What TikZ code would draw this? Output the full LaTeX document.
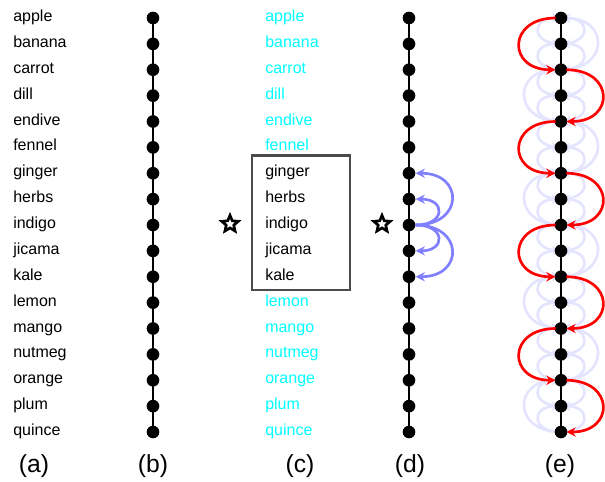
\documentclass[tikz,border=0pt]{standalone}
\usepackage{fontspec}
\setmainfont{Liberation Sans}
\usetikzlibrary{arrows.meta,shapes.geometric}
\definecolor{aqua}{RGB}{0,255,255}
\definecolor{lavender}{RGB}{128,128,255}
\definecolor{haze}{RGB}{228,228,255}

\begin{document}
\begin{tikzpicture}[x=0.75pt,y=-0.75pt,
	dot/.style={circle,fill=black,inner sep=0pt,minimum size=9.5pt},
	spine/.style={line width=2.2pt},
	word/.style={anchor=base west,inner sep=0pt,font=\fontsize{12}{14}\selectfont},
	caption/.style={anchor=base,font=\fontsize{18.5}{21}\selectfont},
	starmark/.style={star,star points=5,star point ratio=2.2,draw,line width=2pt,minimum size=13pt,inner sep=0pt},
	reach/.style={draw=lavender,line width=2pt,-{Stealth[length=7pt,width=7pt]}},
	ghost/.style={draw=haze,line width=2pt,-{Stealth[length=7pt,width=7pt]}},
	jump/.style={draw=red,line width=2pt,-{Stealth[length=7pt,width=7pt]}}]
	
	\useasboundingbox (0,0) rectangle (605,481);
	
	% (a) plain list
	\foreach \w [count=\i from 0] in {apple,banana,carrot,dill,endive,fennel,ginger,herbs,indigo,jicama,kale,lemon,mango,nutmeg,orange,plum,quince}
		\node[word] (a\i) at (13,{21.5+25.875*\i}) {\w};
	
	% (b) chain
	\foreach \i in {0,...,16}
		\node[dot] (b\i) at (153,{18+25.875*\i}) {};
	\draw[spine] (b0.center) -- (b16.center);
	
	% (c) list with window
	\foreach \w [count=\i from 0] in {apple,banana,carrot,dill,endive,fennel,ginger,herbs,indigo,jicama,kale,lemon,mango,nutmeg,orange,plum,quince}{
		\ifnum\i<6 \def\tone{aqua}\else\ifnum\i>10 \def\tone{aqua}\else\def\tone{black}\fi\fi
		\node[word,text=\tone] (c\i) at (265,{21.5+25.875*\i}) {\w};
	}
	\node[draw=black!70,line width=2pt,minimum width=73.5pt,minimum height=101pt] (window) at (301,222.5) {};
	\node[starmark] (starc) at (230,224) {};
	
	% (d) chain with neighbours
	\foreach \i in {0,...,16}
		\node[dot] (d\i) at (409,{18+25.875*\i}) {};
	\draw[spine] (d0.center) -- (d16.center);
	\node[starmark] (stard) at (382,224) {};
	\draw[reach] (d8.east) to[out=0,in=0,looseness=2.4] (d6.east);
	\draw[reach] (d8.east) to[out=0,in=0,looseness=3] (d7.east);
	\draw[reach] (d8.east) to[out=0,in=0,looseness=3] (d9.east);
	\draw[reach] (d8.east) to[out=0,in=0,looseness=2.4] (d10.east);
	
	% (e) chain with hops
	\foreach \i in {0,...,16}
		\coordinate (e\i) at (561,{18+25.875*\i});
	\foreach \i [evaluate=\i as \j using int(\i+1), evaluate=\i as \k using int(\i+2)] in {0,2,...,14}{
		\draw[ghost] (e\j) to[out=180,in=180,looseness=3] (e\i);
		\draw[ghost] (e\j) to[out=0,in=0,looseness=3] (e\i);
		\draw[ghost] (e\k) to[out=180,in=180,looseness=3] (e\j);
		\draw[ghost] (e\k) to[out=0,in=0,looseness=3] (e\j);
	}
	\foreach \i [evaluate=\i as \k using int(\i+2), evaluate=\i as \s using {mod(\i,4)==0 ? 0 : 180}] in {0,2,...,14}
		\draw[ghost] (e\k) to[out=\s,in=\s,looseness=2.4] (e\i);
	\draw[spine] (e0) -- (e16);
	\foreach \i in {0,...,16}
		\node[dot] at (e\i) {};
	\foreach \i [evaluate=\i as \k using int(\i+2), evaluate=\i as \s using {mod(\i,4)==0 ? 180 : 0}] in {0,2,...,14}
		\draw[jump] ([xshift={\s==180 ? -4pt : 4pt}]e\i) to[out=\s,in=\s,looseness=2.4] ([xshift={\s==180 ? -4pt : 4pt}]e\k);
	
	% captions
	\node[caption] (capa) at (34,472) {(a)};
	\node[caption] (capb) at (153,472) {(b)};
	\node[caption] (capc) at (300,472) {(c)};
	\node[caption] (capd) at (410,472) {(d)};
	\node[caption] (cape) at (560,472) {(e)};
	
\end{tikzpicture}
\end{document}
